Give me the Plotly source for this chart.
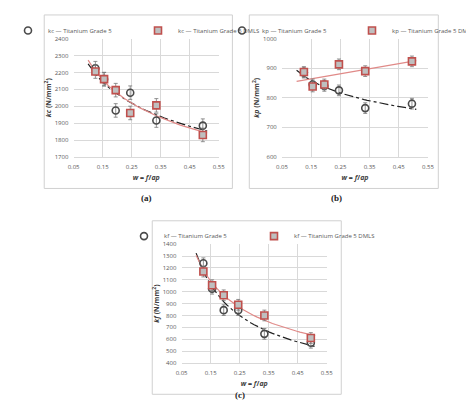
import numpy as np
import plotly.graph_objects as go

w = [0.125, 0.155, 0.195, 0.245, 0.335, 0.495]

kc_g5 = [2225, 2160, 1975, 2080, 1915, 1885]
kc_dmls = [2205, 2160, 2095, 1960, 2005, 1830]
kp_g5 = [885, 845, 840, 825, 765, 780]
kp_dmls = [887, 838, 845, 913, 890, 923]
kf_g5 = [1240, 1025, 845, 845, 645, 570]
kf_dmls = [1170, 1055, 970, 890, 800, 610]

err_kc = 40
err_kp = 18
err_kf = 45

GRAY = "#4a4a4a"
RED = "#c0504d"
fnt = dict(family="Open Sans, sans-serif", size=6, color="#595959")

fig = go.Figure()

def power_fit(x, y):
    b, a = np.polyfit(np.log(x), np.log(y), 1)
    xs = np.linspace(0.1, 0.51, 40)
    return xs, np.exp(a) * xs ** b

def lin_fit(x, y):
    m, c = np.polyfit(x, y, 1)
    xs = np.array([0.1, 0.51])
    return xs, m * xs + c

panels = [
    ("x", "y", kc_g5, kc_dmls, err_kc, "kc", "legend", power_fit, power_fit),
    ("x2", "y2", kp_g5, kp_dmls, err_kp, "kp", "legend2", power_fit, lin_fit),
    ("x3", "y3", kf_g5, kf_dmls, err_kf, "kf", "legend3", power_fit, power_fit),
]

for xa, ya, g5, dm, e, name, lg, fit1, fit2 in panels:
    xs, ys = fit1(w, g5)
    fig.add_trace(go.Scatter(x=xs, y=ys, xaxis=xa, yaxis=ya, mode="lines",
                             line=dict(color="#222", width=1.2, dash="dashdot"),
                             showlegend=False))
    xs, ys = fit2(w, dm)
    fig.add_trace(go.Scatter(x=xs, y=ys, xaxis=xa, yaxis=ya, mode="lines",
                             line=dict(color="#e08a88", width=1.2),
                             showlegend=False))
    fig.add_trace(go.Scatter(x=w, y=g5, xaxis=xa, yaxis=ya, mode="markers",
                             name=name + " — Titanium Grade 5", legend=lg,
                             marker=dict(symbol="circle-open", size=7, color=GRAY,
                                         line=dict(width=1.6)),
                             error_y=dict(type="constant", value=e, color="#777",
                                          thickness=0.8, width=2)))
    fig.add_trace(go.Scatter(x=w, y=dm, xaxis=xa, yaxis=ya, mode="markers",
                             name=name + " — Titanium Grade 5 DMLS", legend=lg,
                             marker=dict(symbol="square", size=7, color="#bfbfbf",
                                         line=dict(width=1.6, color=RED)),
                             error_y=dict(type="constant", value=e, color="#777",
                                          thickness=0.8, width=2)))

ax_common = dict(range=[0.05, 0.55], dtick=0.1, tick0=0.05, tickformat=".2f",
                 showgrid=True, gridcolor="#d9d9d9", zeroline=False,
                 tickfont=fnt, ticks="outside", ticklen=4, tickcolor="rgba(0,0,0,0)",
                 linecolor="#d9d9d9", showline=True,
                 title=dict(text="<b><i>w</i> = <i>f</i>/<i>ap</i></b>",
                            font=dict(family="Open Sans, sans-serif", size=7, color="#404040"),
                            standoff=4))
ay_common = dict(showgrid=True, gridcolor="#d9d9d9", zeroline=False, tickfont=fnt,
                 ticks="outside", ticklen=3, tickcolor="rgba(0,0,0,0)", showline=False)

def ytitle(n):
    return dict(text="<b><i>%s</i> (N/mm<sup>2</sup>)</b>" % n,
                font=dict(family="Open Sans, sans-serif", size=7, color="#404040"),
                standoff=2)

ya = 0.635; yb = 0.933
yc = 0.116; yd = 0.415

leg = dict(orientation="h", xanchor="center", yanchor="top", font=fnt,
           itemwidth=30, entrywidth=85, bgcolor="rgba(0,0,0,0)", tracegroupgap=0)

fig.update_layout(
    width=474, height=405, margin=dict(l=0, r=0, t=0, b=0),
    paper_bgcolor="white", plot_bgcolor="white",
    xaxis=dict(ax_common, domain=[0.084, 0.447], anchor="y"),
    yaxis=dict(ay_common, domain=[ya, yb], range=[1700, 2400], dtick=100,
               anchor="x", title=ytitle("kc")),
    xaxis2=dict(ax_common, domain=[0.605, 0.970], anchor="y2"),
    yaxis2=dict(ay_common, domain=[ya, yb], range=[600, 1000], dtick=100,
                anchor="x2", title=ytitle("kp")),
    xaxis3=dict(ax_common, domain=[0.354, 0.717], anchor="y3"),
    yaxis3=dict(ay_common, domain=[yc, yd], range=[400, 1400], dtick=100,
                anchor="x3", title=ytitle("kf")),
    legend=dict(leg, x=0.245, y=0.99),
    legend2=dict(leg, x=0.78, y=0.99),
    legend3=dict(leg, x=0.535, y=0.472),
)

# panel frames
for x0, x1, y0, y1 in [(5, 228, 3, 180), (248, 472, 3, 180), (133, 357, 213, 390)]:
    fig.add_shape(type="rect", xref="paper", yref="paper",
                  x0=x0 / 474, x1=x1 / 474, y0=1 - y1 / 405, y1=1 - y0 / 405,
                  line=dict(color="#d0d0d0", width=1))

for txt, x, y in [("(a)", 117, 190), ("(b)", 360, 190), ("(c)", 237, 398)]:
    fig.add_annotation(text="<b>%s</b>" % txt, x=x / 474, y=1 - y / 405,
                       xref="paper", yref="paper", showarrow=False,
                       font=dict(family="Liberation Serif, serif", size=9, color="#222"))

fig.write_html("out.html")
